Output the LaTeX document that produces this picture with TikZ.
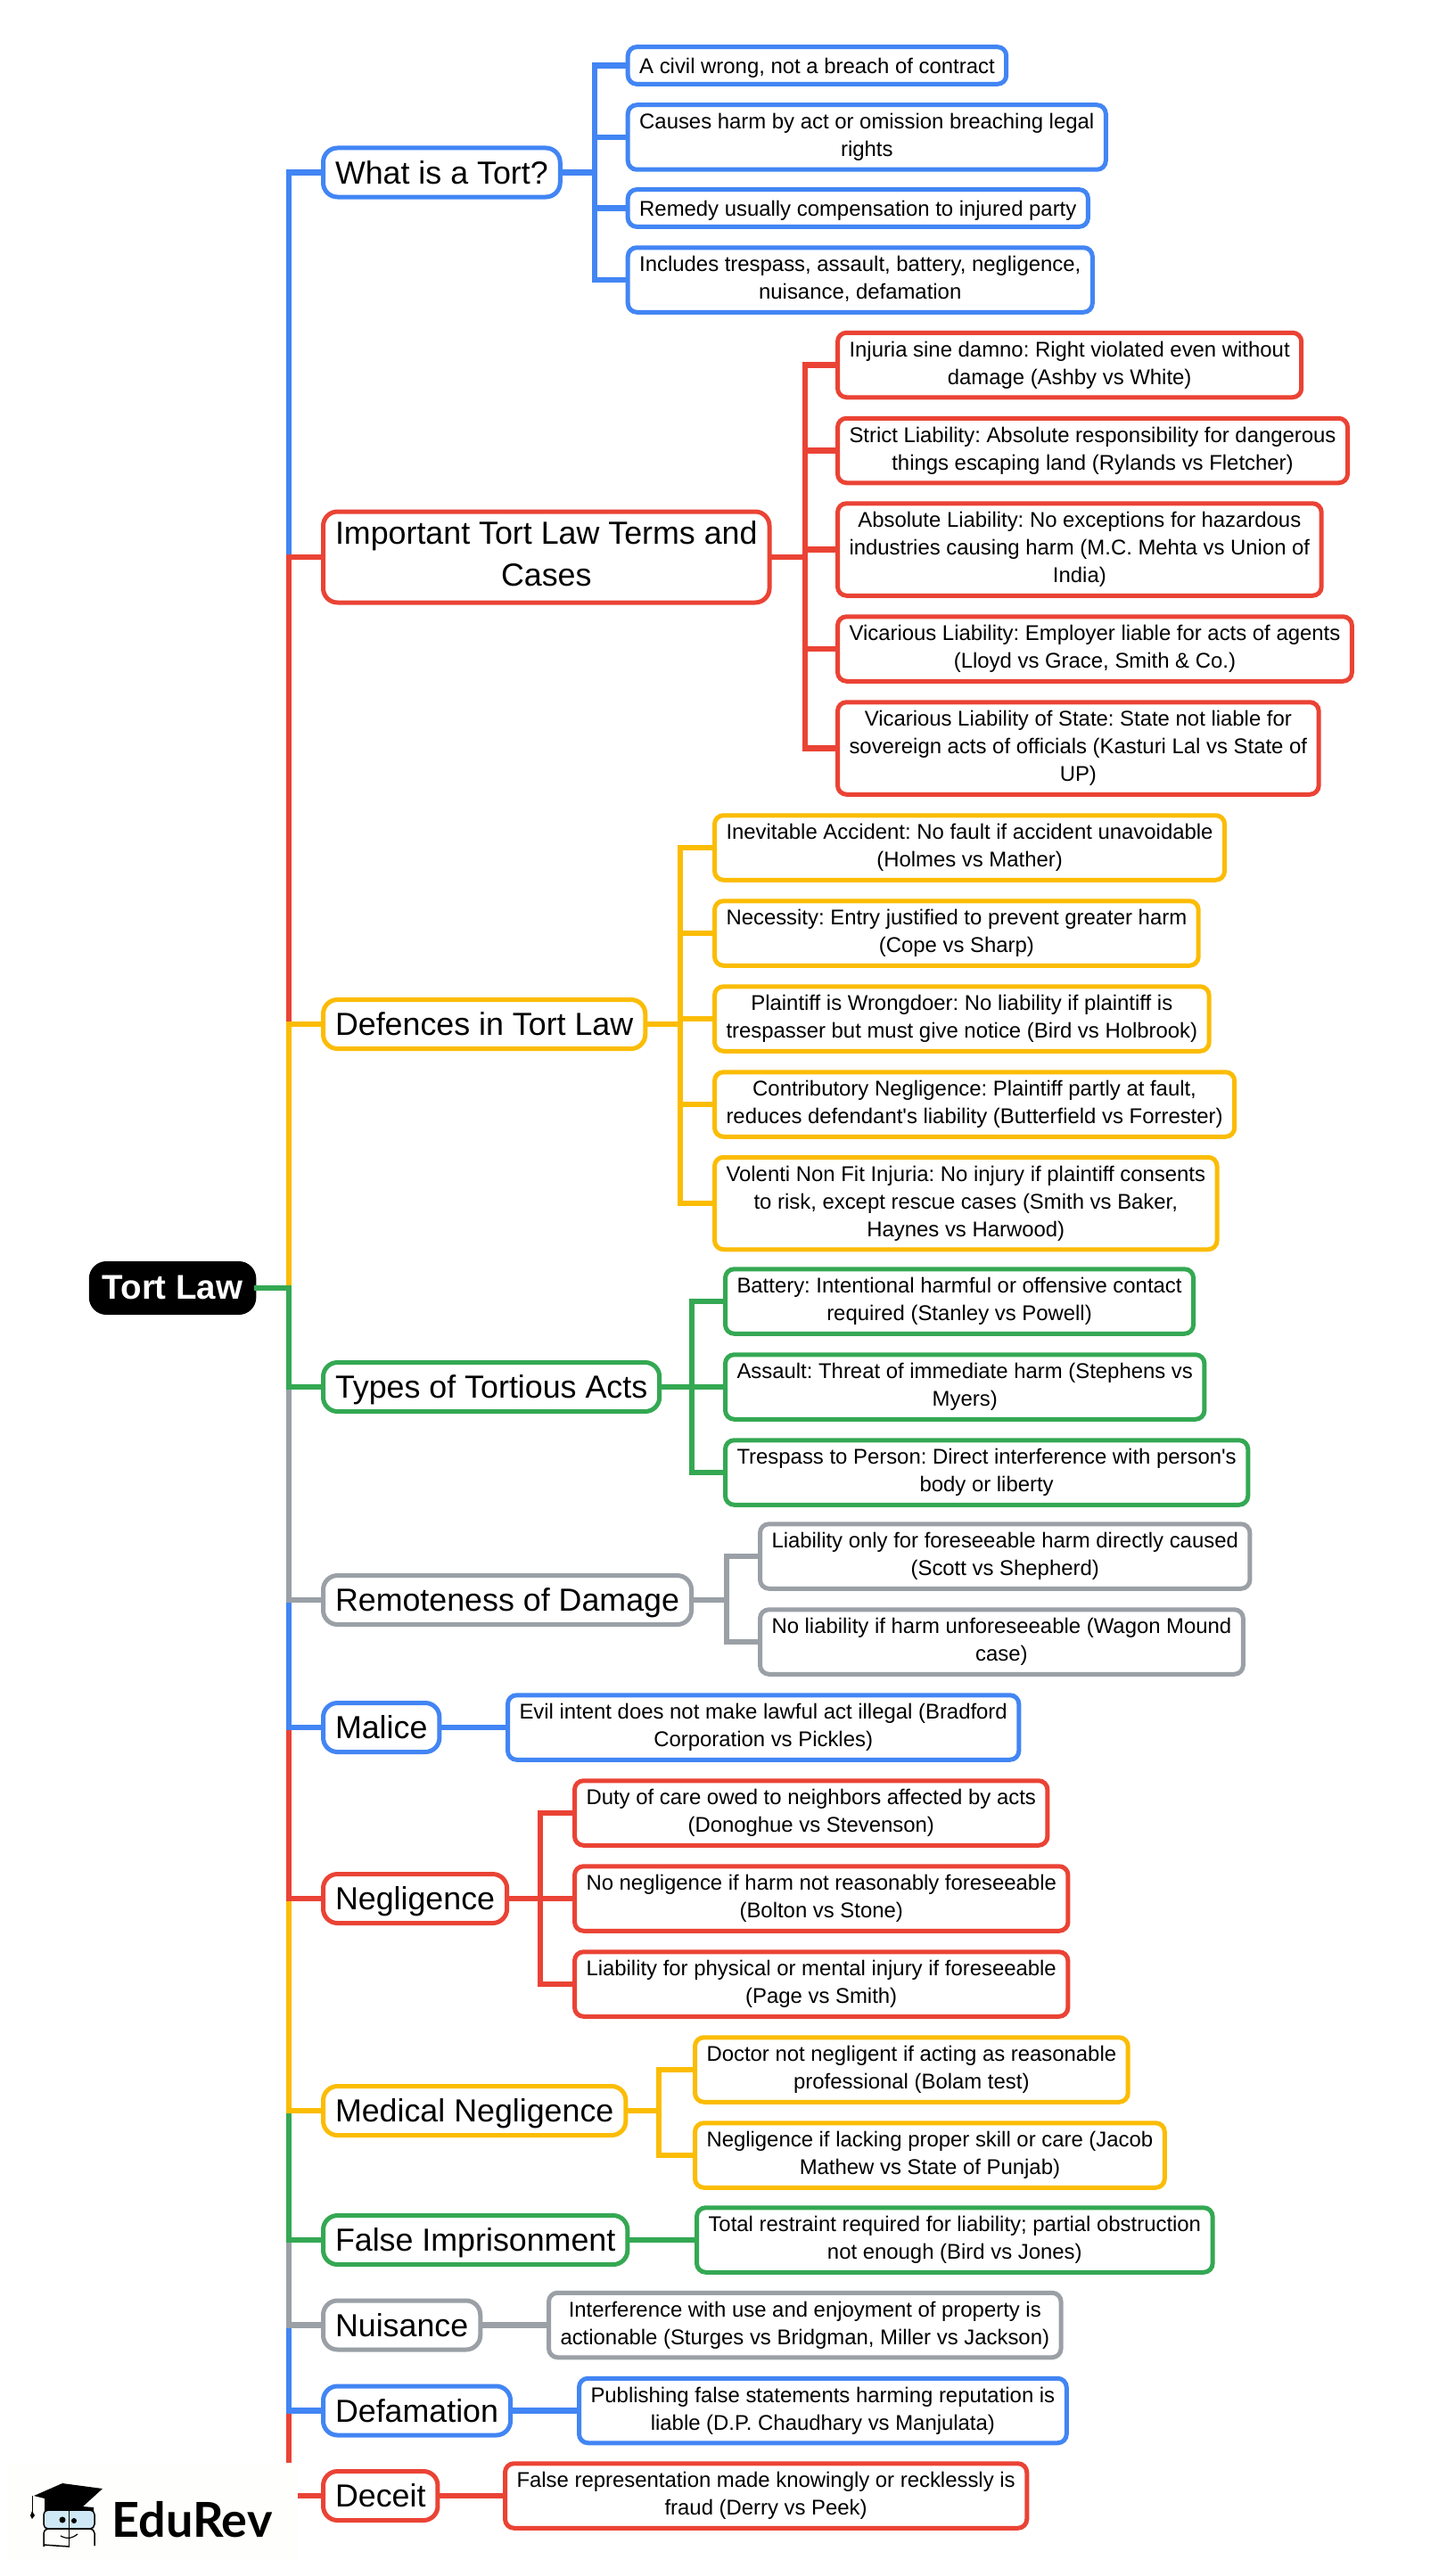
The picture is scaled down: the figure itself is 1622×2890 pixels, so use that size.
\documentclass[tikz,border=0pt]{standalone}
\usepackage{fontspec}
\setmainfont[Ligatures=TeXOff]{Liberation Sans}
\newfontfamily\logofont{Lato}
\definecolor{mapblue}{HTML}{4285F4}
\definecolor{mapred}{HTML}{EA4335}
\definecolor{mapyellow}{HTML}{FBBC04}
\definecolor{mapgreen}{HTML}{34A853}
\definecolor{mapgray}{HTML}{9AA0A6}
\definecolor{lensblue}{HTML}{CFE8F6}
\definecolor{logopaper}{HTML}{FEFEFD}
\newcommand{\topicstrut}{\rule[-8pt]{0pt}{41.4pt}}
\newcommand{\leafstrut}{\rule[-4.5pt]{0pt}{26.6pt}}
\tikzstyle{rootnode}=[draw=black, fill=black, text=white, line width=5pt, rounded corners=17pt, anchor=west, outer sep=0pt, inner xsep=12.5pt, inner ysep=2pt, minimum height=55pt, font=\frenchspacing\fontsize{38.5}{47}\selectfont\bfseries, execute at begin node=\topicstrut]
\tikzstyle{topic}=[draw, fill=white, line width=5pt, rounded corners=16pt, anchor=west, align=center, outer sep=0pt, inner xsep=13.5pt, inner ysep=2pt, minimum height=55pt, font=\frenchspacing\fontsize{35.8}{47}\selectfont, execute at begin node=\topicstrut, execute at end node=\topicstrut]
\tikzstyle{leaf}=[draw, fill=white, line width=5pt, rounded corners=10pt, anchor=west, align=center, outer sep=0pt, inner xsep=13pt, inner ysep=2pt, minimum height=72.5pt, font=\frenchspacing\fontsize{23.9}{31}\selectfont, execute at begin node=\leafstrut, execute at end node=\leafstrut]
\tikzstyle{oneline}=[minimum height=41.7pt]
\tikzstyle{threeline}=[minimum height=103.5pt]
\tikzstyle{link}=[line width=6.5pt]
\begin{document}
\begin{tikzpicture}[x=1pt,y=-1pt]
    \useasboundingbox (0,0) rectangle (1622,2890);
    \node [rootnode] (root) at (102.3,1445) {Tort Law};
    \coordinate (trunk) at (324,1445);

    \node [topic, draw=mapblue] (what) at (362.5,193.5) {What is a Tort?};
    \node [topic, draw=mapred, minimum height=102pt] (terms) at (362.5,625) {Important Tort Law Terms and\\Cases};
    \node [topic, draw=mapyellow] (defences) at (362.5,1149) {Defences in Tort Law};
    \node [topic, draw=mapgreen] (types) at (362.5,1556) {Types of Tortious Acts};
    \node [topic, draw=mapgray] (remoteness) at (362.5,1795) {Remoteness of Damage};
    \node [topic, draw=mapblue] (malice) at (362.5,1938) {Malice};
    \node [topic, draw=mapred] (negligence) at (362.5,2130) {Negligence};
    \node [topic, draw=mapyellow] (medical) at (362.5,2368) {Medical Negligence};
    \node [topic, draw=mapgreen] (falseimp) at (362.5,2513) {False Imprisonment};
    \node [topic, draw=mapgray] (nuisance) at (362.5,2608.5) {Nuisance};
    \node [topic, draw=mapblue] (defamation) at (362.5,2704.5) {Defamation};
    \node [topic, draw=mapred] (deceit) at (362.5,2800) {Deceit};

    \node [leaf, oneline, draw=mapblue] (what1) at (704.2,73.5) {A civil wrong, not a breach of contract};
    \node [leaf, draw=mapblue] (what2) at (704.2,154) {Causes harm by act or omission breaching legal\\rights};
    \node [leaf, oneline, draw=mapblue] (what3) at (704.2,233.5) {Remedy usually compensation to injured party};
    \node [leaf, draw=mapblue] (what4) at (704.2,314) {Includes trespass, assault, battery, negligence,\\nuisance, defamation};

    \node [leaf, draw=mapred] (terms1) at (939.5,409.5) {Injuria sine damno: Right violated even without\\damage (Ashby vs White)};
    \node [leaf, draw=mapred] (terms2) at (939.5,505.5) {Strict Liability: Absolute responsibility for dangerous\\things escaping land (Rylands vs Fletcher)};
    \node [leaf, threeline, draw=mapred] (terms3) at (939.5,616.5) {Absolute Liability: No exceptions for hazardous\\industries causing harm (M.C. Mehta vs Union of\\India)};
    \node [leaf, draw=mapred] (terms4) at (939.5,728) {Vicarious Liability: Employer liable for acts of agents\\(Lloyd vs Grace, Smith \& Co.)};
    \node [leaf, threeline, draw=mapred] (terms5) at (939.5,839.5) {Vicarious Liability of State: State not liable for\\sovereign acts of officials (Kasturi Lal vs State of\\UP)};

    \node [leaf, draw=mapyellow] (defences1) at (801.5,951) {Inevitable Accident: No fault if accident unavoidable\\(Holmes vs Mather)};
    \node [leaf, draw=mapyellow] (defences2) at (801.5,1047) {Necessity: Entry justified to prevent greater harm\\(Cope vs Sharp)};
    \node [leaf, draw=mapyellow] (defences3) at (801.5,1143) {Plaintiff is Wrongdoer: No liability if plaintiff is\\trespasser but must give notice (Bird vs Holbrook)};
    \node [leaf, draw=mapyellow] (defences4) at (801.5,1239) {Contributory Negligence: Plaintiff partly at fault,\\reduces defendant's liability (Butterfield vs Forrester)};
    \node [leaf, threeline, draw=mapyellow] (defences5) at (801.5,1350) {Volenti Non Fit Injuria: No injury if plaintiff consents\\to risk, except rescue cases (Smith vs Baker,\\Haynes vs Harwood)};

    \node [leaf, draw=mapgreen] (types1) at (813.5,1460) {Battery: Intentional harmful or offensive contact\\required (Stanley vs Powell)};
    \node [leaf, draw=mapgreen] (types2) at (813.5,1556) {Assault: Threat of immediate harm (Stephens vs\\Myers)};
    \node [leaf, draw=mapgreen] (types3) at (813.5,1652) {Trespass to Person: Direct interference with person's\\body or liberty};

    \node [leaf, draw=mapgray] (remoteness1) at (852.5,1746) {Liability only for foreseeable harm directly caused\\(Scott vs Shepherd)};
    \node [leaf, draw=mapgray] (remoteness2) at (852.5,1842) {No liability if harm unforeseeable (Wagon Mound\\case)};

    \node [leaf, draw=mapblue] (malice1) at (569.5,1938) {Evil intent does not make lawful act illegal (Bradford\\Corporation vs Pickles)};

    \node [leaf, draw=mapred] (negligence1) at (644.5,2034) {Duty of care owed to neighbors affected by acts\\(Donoghue vs Stevenson)};
    \node [leaf, draw=mapred] (negligence2) at (644.5,2130) {No negligence if harm not reasonably foreseeable\\(Bolton vs Stone)};
    \node [leaf, draw=mapred] (negligence3) at (644.5,2226) {Liability for physical or mental injury if foreseeable\\(Page vs Smith)};

    \node [leaf, draw=mapyellow] (medical1) at (779.5,2322) {Doctor not negligent if acting as reasonable\\professional (Bolam test)};
    \node [leaf, draw=mapyellow] (medical2) at (779.5,2418) {Negligence if lacking proper skill or care (Jacob\\Mathew vs State of Punjab)};

    \node [leaf, draw=mapgreen] (falseimp1) at (781.5,2513) {Total restraint required for liability; partial obstruction\\not enough (Bird vs Jones)};
    \node [leaf, draw=mapgray] (nuisance1) at (615.5,2608.5) {Interference with use and enjoyment of property is\\actionable (Sturges vs Bridgman, Miller vs Jackson)};
    \node [leaf, draw=mapblue] (defamation1) at (649.5,2704.5) {Publishing false statements harming reputation is\\liable (D.P. Chaudhary vs Manjulata)};
    \node [leaf, draw=mapred] (deceit1) at (566.5,2800) {False representation made knowingly or recklessly is\\fraud (Derry vs Peek)};

    \foreach \topicname/\topiccolor in {what/mapblue,terms/mapred,deceit/mapred,defamation/mapblue,nuisance/mapgray,falseimp/mapgreen,medical/mapyellow,negligence/mapred,malice/mapblue,remoteness/mapgray,defences/mapyellow,types/mapgreen}
        \draw [link, color=\topiccolor] (root.east) -- (trunk) |- (\topicname.west);

    \foreach \leafname in {what1,what2,what3,what4}
        \draw [link, color=mapblue] (what.east) -- (667,193.5) |- (\leafname.west);
    \foreach \leafname in {terms1,terms2,terms3,terms4,terms5}
        \draw [link, color=mapred] (terms.east) -- (903,625) |- (\leafname.west);
    \foreach \leafname in {defences1,defences2,defences3,defences4,defences5}
        \draw [link, color=mapyellow] (defences.east) -- (763,1149) |- (\leafname.west);
    \foreach \leafname in {types1,types2,types3}
        \draw [link, color=mapgreen] (types.east) -- (776,1556) |- (\leafname.west);
    \foreach \leafname in {remoteness1,remoteness2}
        \draw [link, color=mapgray] (remoteness.east) -- (815,1795) |- (\leafname.west);
    \foreach \leafname in {negligence1,negligence2,negligence3}
        \draw [link, color=mapred] (negligence.east) -- (606,2130) |- (\leafname.west);
    \foreach \leafname in {medical1,medical2}
        \draw [link, color=mapyellow] (medical.east) -- (739,2368) |- (\leafname.west);
    \draw [link, color=mapblue] (malice.east) -- (malice1.west);
    \draw [link, color=mapgreen] (falseimp.east) -- (falseimp1.west);
    \draw [link, color=mapgray] (nuisance.east) -- (nuisance1.west);
    \draw [link, color=mapblue] (defamation.east) -- (defamation1.west);
    \draw [link, color=mapred] (deceit.east) -- (deceit1.west);

    \fill [logopaper] (10,2763) rectangle (334,2872);
    \node [anchor=base west, inner sep=0pt, font=\fontsize{54}{54}\selectfont\logofont\bfseries] (logo) at (125,2846) {EduRev};
    \fill [black] (38,2800) -- (70,2786) -- (115,2792) -- (93,2812) -- (105,2813) -- (105,2818) -- (50,2818) -- (50,2803) -- cycle;
    \draw [black, line width=1pt] (36,2800) -- (36,2820);
    \fill [black] (36,2817) -- (39,2822) -- (36,2826) -- (34,2822) -- cycle;
    \draw [black, fill=lensblue, line width=1.5pt, rounded corners=5pt] (49,2816) rectangle (106,2837);
    \draw [black, line width=1.5pt, rounded corners=5pt] (49,2857) -- (49,2837) -- (106,2837) -- (106,2856);
    \draw [black, line width=1.5pt] (49,2855) -- (78,2857);
    \draw [black, line width=1.5pt] (77.5,2815) -- (77.5,2857);
    \fill [black] (70,2827) circle (3.5);
    \fill [black] (83,2828) circle (3);
    \draw [black, line width=1.2pt] (68,2845) .. controls (76,2849) and (80,2848) .. (87,2843);
\end{tikzpicture}
\end{document}
